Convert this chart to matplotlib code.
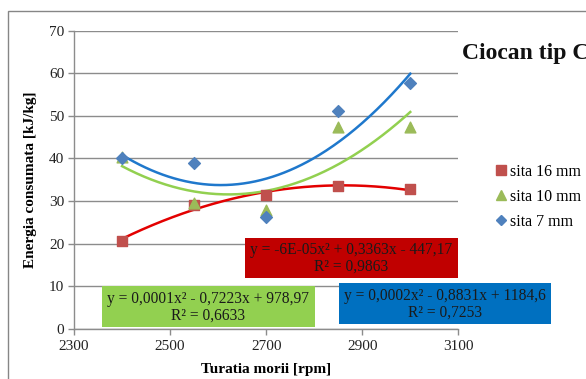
import numpy as np
import matplotlib
matplotlib.use("Agg")
import matplotlib.pyplot as plt
from matplotlib.patches import Rectangle
from matplotlib.lines import Line2D

plt.rcParams['font.family'] = ['Liberation Serif', 'DejaVu Serif']

# Mill speed [rpm] and specific energy [kJ/kg] per screen size
turatia = [2400, 2550, 2700, 2850, 3000]
sita_16 = [20.7, 29.0, 31.5, 33.5, 32.7]
sita_10 = [40.3, 29.5, 27.9, 47.3, 47.3]
sita_7 = [40.0, 38.9, 26.2, 51.2, 57.7]

series_labels = ['sita 16 mm', 'sita 10 mm', 'sita 7 mm']
eq_16 = ['y = -6E-05x\u00b2 + 0,3363x - 447,17', 'R\u00b2 = 0,9863']
eq_10 = ['y = 0,0001x\u00b2 - 0,7223x + 978,97', 'R\u00b2 = 0,6633']
eq_7 = ['y = 0,0002x\u00b2 - 0,8831x + 1184,6', 'R\u00b2 = 0,7253']

W, H = 586, 379
fig = plt.figure(figsize=(W / 100, H / 100), dpi=100)
fig.patch.set_facecolor('white')


def fx(px):
    return px / W


def fy(py):
    return 1 - py / H


# outer chart frame (continues past the right and bottom edges)
fig.patches.append(Rectangle((fx(8), fy(400)), fx(600), fy(11) - fy(400),
                             transform=fig.transFigure, fill=False,
                             edgecolor='#868686', linewidth=1.0))

ax = fig.add_axes([fx(74), fy(328.7), fx(458.3) - fx(74), fy(30.7) - fy(328.7)])
ax.set_xlim(2300, 3100)
ax.set_ylim(0, 70)
ax.set_xticks(np.arange(2300, 3101, 200))
ax.set_yticks(np.arange(0, 71, 10))
ax.yaxis.grid(True, color='#8c8c8c', linewidth=1.0)
ax.set_axisbelow(True)
for s in ['top', 'right']:
    ax.spines[s].set_visible(False)
for s in ['left', 'bottom']:
    ax.spines[s].set_color('#8c8c8c')
    ax.spines[s].set_linewidth(1.0)
ax.tick_params(axis='both', colors='#8c8c8c', length=4, width=1.0,
               labelsize=11, labelcolor='#222222')
ax.tick_params(axis='x', pad=4)
ax.tick_params(axis='y', pad=3)

ax.set_xlabel('Turatia morii [rpm]', fontsize=11, fontweight='bold', labelpad=7)
ax.set_ylabel('Energia consumata [kJ/kg]', fontsize=11, fontweight='bold', labelpad=9)

# second-order polynomial trend lines
xs = np.linspace(turatia[0], turatia[-1], 200)
for vals, col in [(sita_16, '#E30000'), (sita_10, '#92D050'), (sita_7, '#1F78CC')]:
    c = np.polyfit(turatia, vals, 2)
    ax.plot(xs, np.polyval(c, xs), color=col, linewidth=1.8, zorder=3)

ax.scatter(turatia, sita_16, marker='s', s=60, color='#C0504D', zorder=4)
ax.scatter(turatia, sita_10, marker='^', s=60, color='#9BBB59', zorder=4)
ax.scatter(turatia, sita_7, marker='D', s=36, color='#4F81BD', zorder=4)


def eq_box(x0, y0, x1, y1, color, lines):
    fig.patches.append(Rectangle((fx(x0), fy(y1)), fx(x1) - fx(x0), fy(y0) - fy(y1),
                                 transform=fig.transFigure, facecolor=color,
                                 edgecolor='none', zorder=5))
    cx = fx((x0 + x1) / 2)
    fig.text(cx, fy(y0 + (y1 - y0) * 0.32), lines[0], ha='center', va='center',
             fontsize=11.2, color='#1a1a1a', zorder=6)
    fig.text(cx, fy(y0 + (y1 - y0) * 0.73), lines[1], ha='center', va='center',
             fontsize=11.2, color='#1a1a1a', zorder=6)


eq_box(245, 237.7, 457.7, 277.7, '#C00000', eq_16)
eq_box(101.7, 286, 314.7, 327, '#92D050', eq_10)
eq_box(339, 283.3, 550.7, 324, '#0070C0', eq_7)

fig.text(fx(462), fy(53), 'Ciocan tip C', fontsize=17, fontweight='bold',
         ha='left', va='center', color='#111111')

handles = [
    Line2D([], [], linestyle='none', marker='s', markersize=7, color='#C0504D'),
    Line2D([], [], linestyle='none', marker='^', markersize=7, color='#9BBB59'),
    Line2D([], [], linestyle='none', marker='D', markersize=5, color='#4F81BD'),
]
fig.legend(handles, series_labels, loc='upper left',
           bbox_to_anchor=(fx(496), fy(164)), frameon=False, fontsize=11.5,
           handlelength=0.6, handletextpad=0.3, labelspacing=0.55,
           borderaxespad=0, borderpad=0)

fig.savefig('out.png', dpi=100)
